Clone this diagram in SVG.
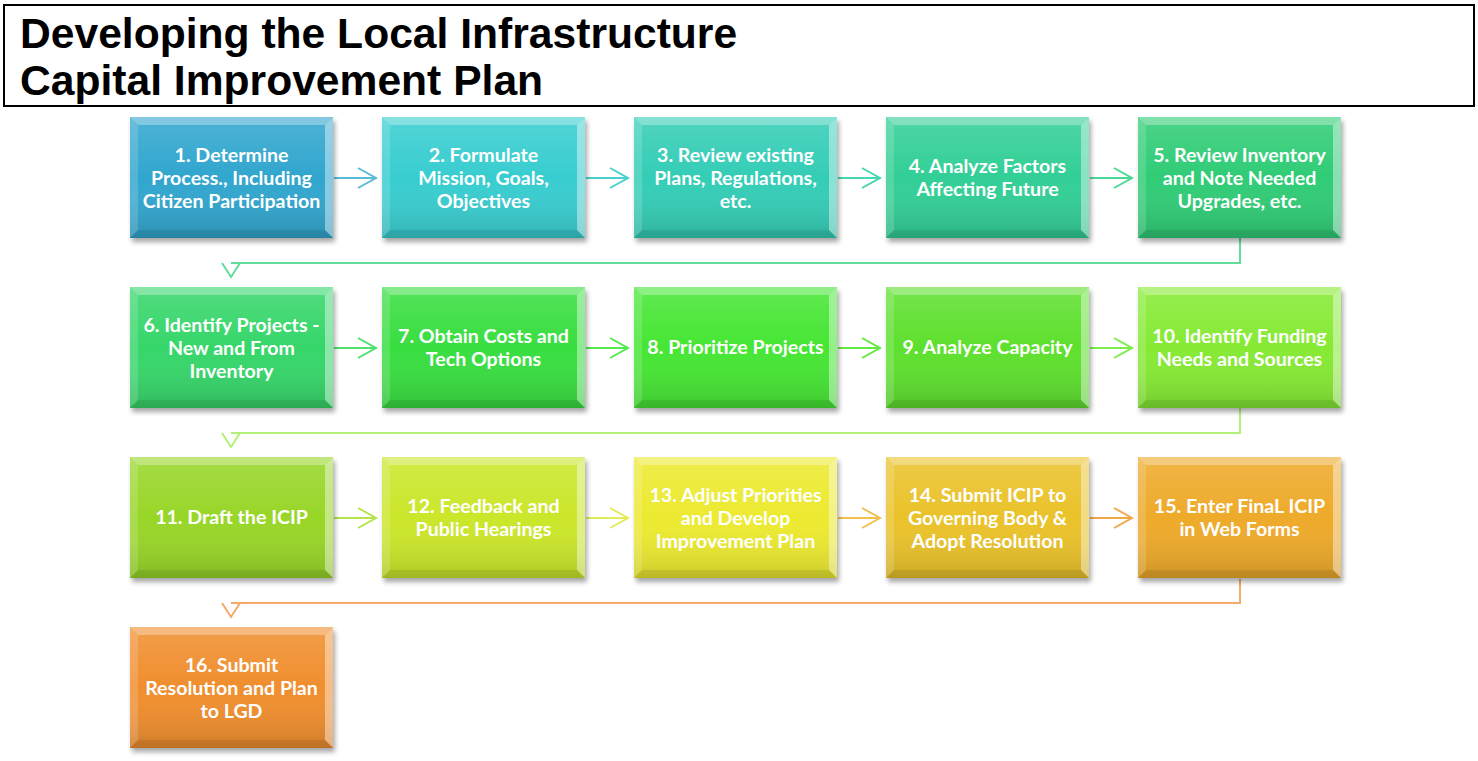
<svg xmlns="http://www.w3.org/2000/svg" xmlns:xlink="http://www.w3.org/1999/xlink" width="1478" height="761" viewBox="0 0 1478 761">
<style>
.title{font-family:"Liberation Sans",Arial,sans-serif;font-weight:bold;font-size:42.6px;fill:#000}
.lbl{font-family:Lato,"Open Sans","Liberation Sans",sans-serif;font-weight:bold;font-size:19.6px;fill:#fff;text-anchor:middle}
.con{fill:none;stroke-width:2;stroke-linejoin:miter}
</style>
<defs>
<linearGradient id="shade" x1="0" y1="0" x2="0" y2="1">
<stop offset="0" stop-color="#fff" stop-opacity="0.14"/>
<stop offset="0.5" stop-color="#fff" stop-opacity="0"/>
<stop offset="1" stop-color="#000" stop-opacity="0.14"/>
</linearGradient>
<filter id="sh" x="-10%" y="-10%" width="130%" height="130%">
<feGaussianBlur stdDeviation="2.5"/>
</filter>
<g id="shadow"><rect x="2" y="4" width="203" height="121" fill="#000" opacity="0.35" filter="url(#sh)"/></g>
<g id="bevel">
<rect x="0" y="0" width="203" height="121" fill="url(#shade)"/>
<polygon points="0,0 203,0 195,8 8,8" fill="#fff" opacity="0.3"/>
<polygon points="0,0 8,8 8,113 0,121" fill="#fff" opacity="0.16"/>
<polygon points="203,0 195,8 195,113 203,121" fill="#fff" opacity="0.42"/>
<polygon points="0,121 203,121 195,113 8,113" fill="#000" opacity="0.08"/>
</g>
</defs>
<rect width="1478" height="761" fill="#fff"/>
<g id="title">
<rect x="4" y="5" width="1470" height="101" fill="#fff" stroke="#000" stroke-width="2"/>
<text class="title" x="20" y="48">Developing the Local Infrastructure</text>
<text class="title" x="20" y="95">Capital Improvement Plan</text>
</g>
<g id="connectors">
<g stroke="#58bcd6" class="con"><line x1="334" y1="178" x2="376" y2="178"/><polyline points="358,168 376,178 358,188"/></g>
<g stroke="#48d0cc" class="con"><line x1="586" y1="178" x2="628" y2="178"/><polyline points="610,168 628,178 610,188"/></g>
<g stroke="#46d6b2" class="con"><line x1="838" y1="178" x2="880" y2="178"/><polyline points="862,168 880,178 862,188"/></g>
<g stroke="#4ad896" class="con"><line x1="1090" y1="178" x2="1132" y2="178"/><polyline points="1114,168 1132,178 1114,188"/></g>
<g stroke="#62dc9a" class="con"><polyline points="1240,238 1240,263 231,263"/><polyline points="222,263 231,277 240,263"/></g>
<g stroke="#50e070" class="con"><line x1="334" y1="348" x2="376" y2="348"/><polyline points="358,338 376,348 358,358"/></g>
<g stroke="#52ea52" class="con"><line x1="586" y1="348" x2="628" y2="348"/><polyline points="610,338 628,348 610,358"/></g>
<g stroke="#62ea42" class="con"><line x1="838" y1="348" x2="880" y2="348"/><polyline points="862,338 880,348 862,358"/></g>
<g stroke="#7cee4a" class="con"><line x1="1090" y1="348" x2="1132" y2="348"/><polyline points="1114,338 1132,348 1114,358"/></g>
<g stroke="#b2f078" class="con"><polyline points="1240,408 1240,433 231,433"/><polyline points="222,433 231,447 240,433"/></g>
<g stroke="#b4e44a" class="con"><line x1="334" y1="518" x2="376" y2="518"/><polyline points="358,508 376,518 358,528"/></g>
<g stroke="#e2ec5a" class="con"><line x1="586" y1="518" x2="628" y2="518"/><polyline points="610,508 628,518 610,528"/></g>
<g stroke="#f2c04e" class="con"><line x1="838" y1="518" x2="880" y2="518"/><polyline points="862,508 880,518 862,528"/></g>
<g stroke="#f2a84a" class="con"><line x1="1090" y1="518" x2="1132" y2="518"/><polyline points="1114,508 1132,518 1114,528"/></g>
<g stroke="#f4aa68" class="con"><polyline points="1240,579 1240,603 231,603"/><polyline points="222,603 231,617 240,603"/></g>
</g>
<g id="n1"><use xlink:href="#shadow" x="130" y="117"/><rect x="130" y="117" width="203" height="121" fill="#31a6ce"/><use xlink:href="#bevel" x="130" y="117"/><text class="lbl" x="231.5" y="161.5">1. Determine</text><text class="lbl" x="231.5" y="184.5">Process., Including</text><text class="lbl" x="231.5" y="207.5">Citizen Participation</text></g>
<g id="n2"><use xlink:href="#shadow" x="382" y="117"/><rect x="382" y="117" width="203" height="121" fill="#38cdd0"/><use xlink:href="#bevel" x="382" y="117"/><text class="lbl" x="483.5" y="161.5">2. Formulate</text><text class="lbl" x="483.5" y="184.5">Mission, Goals,</text><text class="lbl" x="483.5" y="207.5">Objectives</text></g>
<g id="n3"><use xlink:href="#shadow" x="634" y="117"/><rect x="634" y="117" width="203" height="121" fill="#34cdb6"/><use xlink:href="#bevel" x="634" y="117"/><text class="lbl" x="735.5" y="161.5">3. Review existing</text><text class="lbl" x="735.5" y="184.5">Plans, Regulations,</text><text class="lbl" x="735.5" y="207.5">etc.</text></g>
<g id="n4"><use xlink:href="#shadow" x="886" y="117"/><rect x="886" y="117" width="203" height="121" fill="#32cf96"/><use xlink:href="#bevel" x="886" y="117"/><text class="lbl" x="987.5" y="172.5">4. Analyze Factors</text><text class="lbl" x="987.5" y="195.5">Affecting Future</text></g>
<g id="n5"><use xlink:href="#shadow" x="1138" y="117"/><rect x="1138" y="117" width="203" height="121" fill="#30cc76"/><use xlink:href="#bevel" x="1138" y="117"/><text class="lbl" x="1239.5" y="161.5">5. Review Inventory</text><text class="lbl" x="1239.5" y="184.5">and Note Needed</text><text class="lbl" x="1239.5" y="207.5">Upgrades, etc.</text></g>
<g id="n6"><use xlink:href="#shadow" x="130" y="287"/><rect x="130" y="287" width="203" height="121" fill="#36d66a"/><use xlink:href="#bevel" x="130" y="287"/><text class="lbl" x="231.5" y="331.5">6. Identify Projects -</text><text class="lbl" x="231.5" y="354.5">New and From</text><text class="lbl" x="231.5" y="377.5">Inventory</text></g>
<g id="n7"><use xlink:href="#shadow" x="382" y="287"/><rect x="382" y="287" width="203" height="121" fill="#38de40"/><use xlink:href="#bevel" x="382" y="287"/><text class="lbl" x="483.5" y="342.5">7. Obtain Costs and</text><text class="lbl" x="483.5" y="365.5">Tech Options</text></g>
<g id="n8"><use xlink:href="#shadow" x="634" y="287"/><rect x="634" y="287" width="203" height="121" fill="#46e634"/><use xlink:href="#bevel" x="634" y="287"/><text class="lbl" x="735.5" y="354">8. Prioritize Projects</text></g>
<g id="n9"><use xlink:href="#shadow" x="886" y="287"/><rect x="886" y="287" width="203" height="121" fill="#5ee02e"/><use xlink:href="#bevel" x="886" y="287"/><text class="lbl" x="987.5" y="354">9. Analyze Capacity</text></g>
<g id="n10"><use xlink:href="#shadow" x="1138" y="287"/><rect x="1138" y="287" width="203" height="121" fill="#86ea34"/><use xlink:href="#bevel" x="1138" y="287"/><text class="lbl" x="1239.5" y="342.5">10. Identify Funding</text><text class="lbl" x="1239.5" y="365.5">Needs and Sources</text></g>
<g id="n11"><use xlink:href="#shadow" x="130" y="457"/><rect x="130" y="457" width="203" height="121" fill="#98d628"/><use xlink:href="#bevel" x="130" y="457"/><text class="lbl" x="231.5" y="524">11. Draft the ICIP</text></g>
<g id="n12"><use xlink:href="#shadow" x="382" y="457"/><rect x="382" y="457" width="203" height="121" fill="#cce62a"/><use xlink:href="#bevel" x="382" y="457"/><text class="lbl" x="483.5" y="512.5">12. Feedback and</text><text class="lbl" x="483.5" y="535.5">Public Hearings</text></g>
<g id="n13"><use xlink:href="#shadow" x="634" y="457"/><rect x="634" y="457" width="203" height="121" fill="#ecea30"/><use xlink:href="#bevel" x="634" y="457"/><text class="lbl" x="735.5" y="501.5">13. Adjust Priorities</text><text class="lbl" x="735.5" y="524.5">and Develop</text><text class="lbl" x="735.5" y="547.5">Improvement Plan</text></g>
<g id="n14"><use xlink:href="#shadow" x="886" y="457"/><rect x="886" y="457" width="203" height="121" fill="#eac22a"/><use xlink:href="#bevel" x="886" y="457"/><text class="lbl" x="987.5" y="501.5">14. Submit ICIP to</text><text class="lbl" x="987.5" y="524.5">Governing Body &amp;</text><text class="lbl" x="987.5" y="547.5">Adopt Resolution</text></g>
<g id="n15"><use xlink:href="#shadow" x="1138" y="457"/><rect x="1138" y="457" width="203" height="121" fill="#eeaa2a"/><use xlink:href="#bevel" x="1138" y="457"/><text class="lbl" x="1239.5" y="512.5">15. Enter FinaL ICIP</text><text class="lbl" x="1239.5" y="535.5">in Web Forms</text></g>
<g id="n16"><use xlink:href="#shadow" x="130" y="627"/><rect x="130" y="627" width="203" height="121" fill="#f08e2e"/><use xlink:href="#bevel" x="130" y="627"/><text class="lbl" x="231.5" y="671.5">16. Submit</text><text class="lbl" x="231.5" y="694.5">Resolution and Plan</text><text class="lbl" x="231.5" y="717.5">to LGD</text></g>
</svg>
